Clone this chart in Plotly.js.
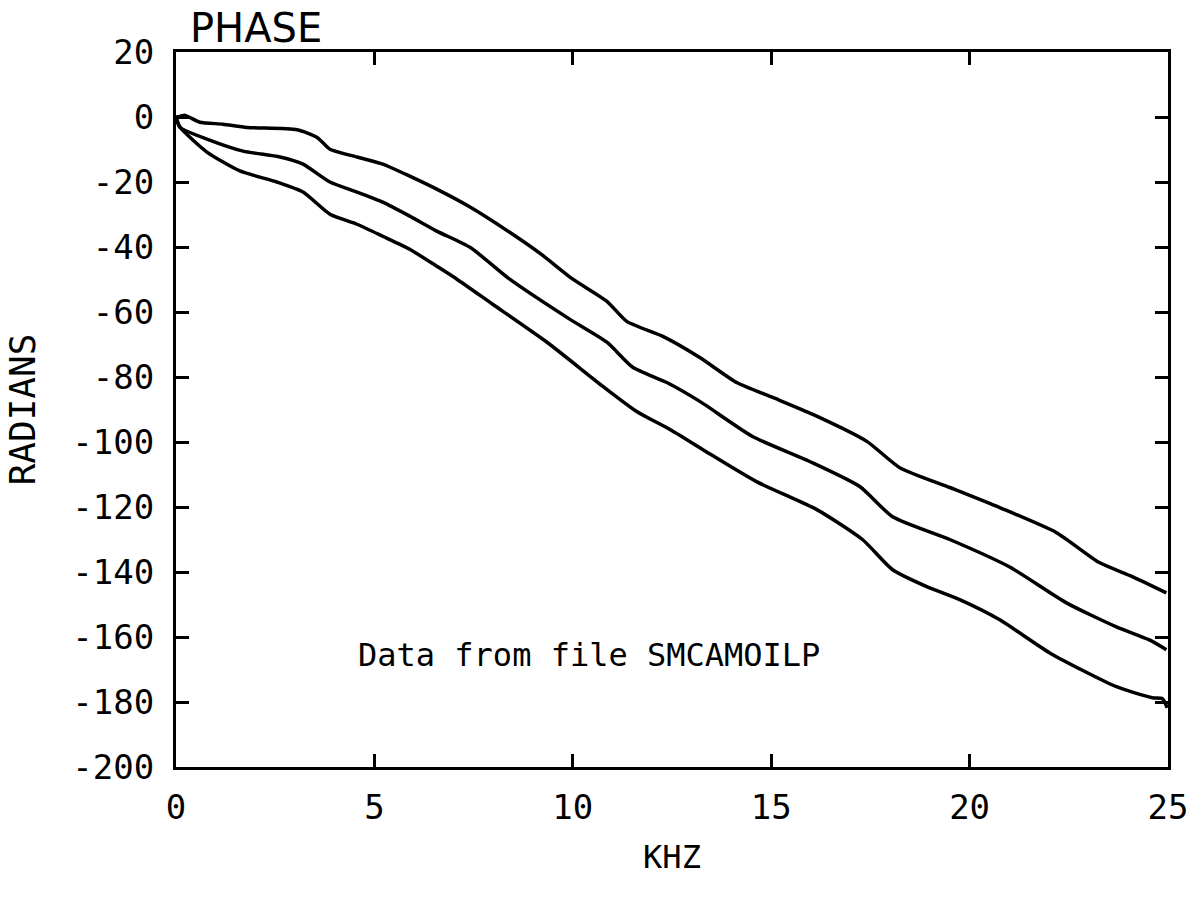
<!DOCTYPE html>
<html>
<head>
<meta charset="utf-8">
<script src="https://cdn.plot.ly/plotly-3.0.1.min.js"></script>
<style>html,body{margin:0;padding:0;background:#fff;}#chart{width:1201px;height:917px;}</style>
</head>
<body>
<div id="chart"></div>
<script>
// Upper curve
const topX = [0, 0.1, 0.23, 0.6, 1.18, 1.79, 3.05, 3.55, 3.88, 4.56, 5.21, 5.89, 6.57, 7.41, 8.4, 9.2, 10.0, 10.86, 11.36, 12.27, 13.2, 14.13, 15.04, 16.05, 17.41, 18.24, 19.5, 20.76, 22.19, 23.27, 24.1, 24.96];
const topY = [0, 0.2, 0.5, -1.6, -2.2, -3.2, -3.9, -6.2, -9.9, -12.3, -14.5, -18.2, -22.2, -27.7, -35.4, -42.2, -49.9, -56.7, -62.9, -67.5, -74.0, -81.7, -86.3, -91.5, -99.8, -107.9, -114.0, -120.2, -127.9, -137.1, -141.4, -146.4];
// Middle curve
const midX = [0, 0.1, 0.78, 1.69, 2.62, 3.2, 3.88, 4.56, 5.21, 5.89, 6.57, 7.41, 8.41, 9.92, 10.86, 11.51, 12.37, 13.2, 14.53, 15.97, 17.23, 18.06, 19.5, 21.0, 22.44, 23.7, 24.53, 24.96];
const midY = [0, -3.2, -6.8, -10.5, -12.3, -14.5, -20.0, -23.1, -26.2, -30.5, -35.1, -40.1, -49.9, -62.2, -69.3, -77.0, -81.7, -87.5, -98.3, -106.0, -113.7, -123.0, -130.0, -138.4, -149.5, -156.9, -160.9, -163.9];
// Lower curve
const lowX = [0, 0.1, 0.78, 1.61, 2.54, 3.2, 3.88, 4.56, 5.21, 5.89, 6.57, 7.08, 7.98, 9.35, 10.76, 11.61, 12.44, 13.27, 14.63, 16.15, 17.3, 18.06, 18.92, 19.75, 20.76, 22.02, 23.7, 24.61, 24.86, 24.98];
const lowY = [0, -3.1, -10.8, -16.6, -20.0, -23.1, -29.9, -33.0, -36.7, -40.7, -45.9, -49.9, -57.6, -69.3, -82.9, -90.6, -96.1, -102.3, -112.2, -120.8, -130.0, -139.3, -144.5, -148.5, -154.7, -164.9, -175.3, -178.7, -179.0, -181.8];

const xTickVals = [0, 5, 10, 15, 20, 25];
const xTickText = ["0", "5", "10", "15", "20", "25"];
const yTickVals = [20, 0, -20, -40, -60, -80, -100, -120, -140, -160, -180, -200];
const yTickText = ["20", "0", "-20", "-40", "-60", "-80", "-100", "-120", "-140", "-160", "-180", "-200"];

const mono = "DejaVu Sans Mono";
const lineStyle = {color: "#000", width: 3.5, shape: "spline", smoothing: 0.6};

const traces = [
  {x: topX, y: topY, mode: "lines", line: lineStyle, hoverinfo: "skip", showlegend: false},
  {x: midX, y: midY, mode: "lines", line: lineStyle, hoverinfo: "skip", showlegend: false},
  {x: lowX, y: lowY, mode: "lines", line: lineStyle, hoverinfo: "skip", showlegend: false}
];

const layout = {
  width: 1201, height: 917,
  margin: {l: 176, r: 33, t: 52, b: 150},
  paper_bgcolor: "#fff", plot_bgcolor: "#fff",
  showlegend: false,
  title: {text: "PHASE", x: 190/1201, xanchor: "left", y: 1 - 28/917, yanchor: "middle",
          font: {family: "DejaVu Sans", size: 40, color: "#000"}},
  xaxis: {
    range: [0, 25], tickvals: xTickVals, ticktext: xTickText,
    showgrid: false, zeroline: false, showline: true, linecolor: "#000", linewidth: 3, mirror: "ticks",
    ticks: "inside", ticklen: 13, tickwidth: 3, tickcolor: "#000",
    ticklabelstandoff: 8,
    tickfont: {family: mono, size: 34, color: "#000"},
    title: {text: "KHZ", font: {family: mono, size: 32, color: "#000"}, standoff: 20}
  },
  yaxis: {
    range: [-200, 20], tickvals: yTickVals, ticktext: yTickText,
    showgrid: false, zeroline: false, showline: true, linecolor: "#000", linewidth: 3, mirror: "ticks",
    ticks: "inside", ticklen: 13, tickwidth: 3, tickcolor: "#000",
    ticklabelstandoff: 12,
    tickfont: {family: mono, size: 34, color: "#000"},
    title: {text: "RADIANS", font: {family: mono, size: 36, color: "#000"}, standoff: 26}
  },
  annotations: [
    {x: 10.4, y: -165.5, xref: "x", yref: "y", text: "Data from file SMCAMOILP", showarrow: false,
     font: {family: mono, size: 32, color: "#000"}, xanchor: "center", yanchor: "middle"}
  ]
};

Plotly.newPlot("chart", traces, layout, {staticPlot: true, displayModeBar: false});
</script>
</body>
</html>
